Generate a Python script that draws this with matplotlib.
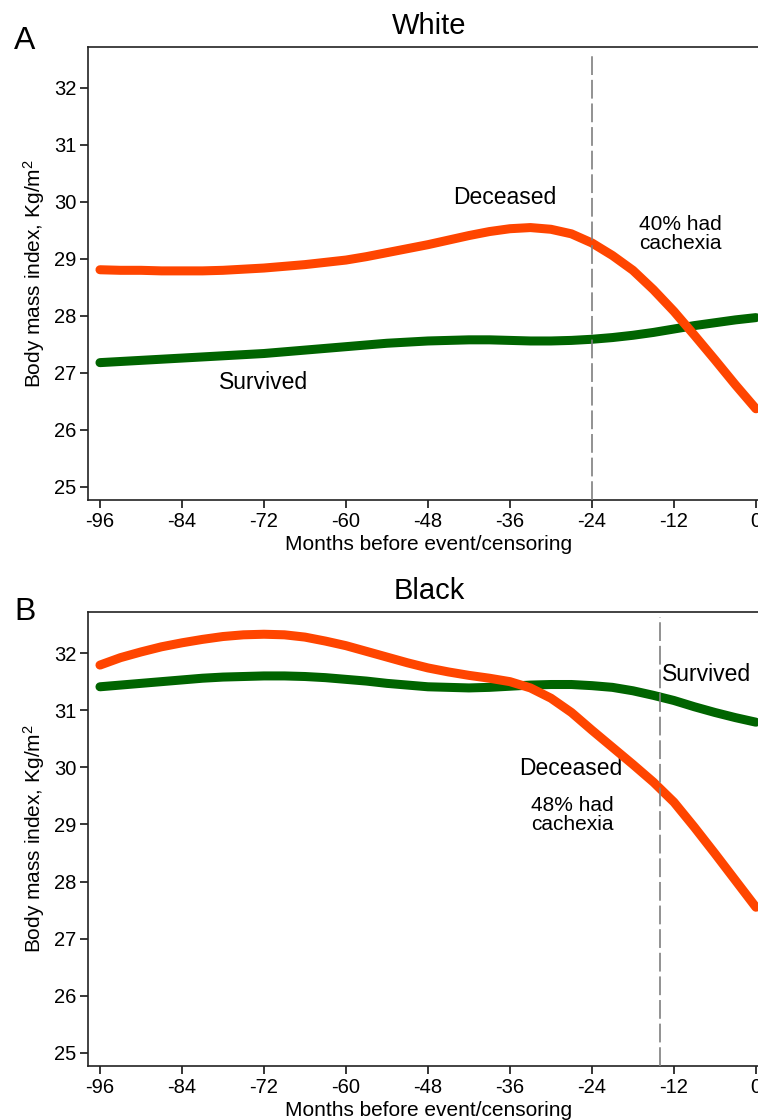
import matplotlib
matplotlib.use("Agg")
import matplotlib.pyplot as plt

plt.rcParams['font.family'] = ['Liberation Sans', 'DejaVu Sans']
plt.rcParams['mathtext.fontset'] = 'custom'
plt.rcParams['mathtext.rm'] = 'Liberation Sans'
plt.rcParams['mathtext.it'] = 'Liberation Sans'
plt.rcParams['axes.unicode_minus'] = False
plt.rcParams['lines.scale_dashes'] = False

# ---- data ----
months = [-96, -93, -90, -87, -84, -81, -78, -75, -72, -69, -66, -63, -60, -57, -54, -51,
          -48, -45, -42, -39, -36, -33, -30, -27, -24, -21, -18, -15, -12, -9, -6, -3, 0]

white_survived = [27.18, 27.20, 27.22, 27.24, 27.26, 27.28, 27.30, 27.32, 27.34, 27.37, 27.40,
                  27.43, 27.46, 27.49, 27.52, 27.54, 27.56, 27.57, 27.58, 27.58, 27.57, 27.56,
                  27.56, 27.57, 27.59, 27.62, 27.66, 27.71, 27.77, 27.83, 27.88, 27.93, 27.97]
white_deceased = [28.81, 28.80, 28.80, 28.79, 28.79, 28.79, 28.80, 28.82, 28.84, 28.87, 28.90,
                  28.94, 28.98, 29.04, 29.11, 29.18, 29.25, 29.33, 29.41, 29.48, 29.53, 29.55,
                  29.52, 29.44, 29.28, 29.06, 28.80, 28.46, 28.08, 27.66, 27.23, 26.79, 26.37]
black_survived = [31.41, 31.44, 31.47, 31.50, 31.53, 31.56, 31.58, 31.59, 31.60, 31.60, 31.59,
                  31.57, 31.54, 31.51, 31.47, 31.44, 31.41, 31.40, 31.39, 31.40, 31.42, 31.44,
                  31.45, 31.45, 31.43, 31.40, 31.34, 31.26, 31.17, 31.06, 30.96, 30.87, 30.79]
black_deceased = [31.79, 31.92, 32.02, 32.11, 32.18, 32.24, 32.29, 32.32, 32.33, 32.32, 32.28,
                  32.21, 32.13, 32.03, 31.93, 31.83, 31.74, 31.67, 31.61, 31.56, 31.50, 31.39,
                  31.21, 30.96, 30.65, 30.35, 30.05, 29.74, 29.39, 28.95, 28.49, 28.02, 27.55]

panel_titles = ["White", "Black"]
panel_letters = ["A", "B"]
cutoff_lines = [-24, -14]
xticks = [-96, -84, -72, -60, -48, -36, -24, -12, 0]
yticks = [25, 26, 27, 28, 29, 30, 31, 32]

ORANGE = '#FF4500'
GREEN = '#006400'

fig = plt.figure(figsize=(7.58, 11.2), dpi=100)
axA = fig.add_axes([0.1161, 0.5536, 0.8992, 0.4045])
axB = fig.add_axes([0.1161, 0.0482, 0.8992, 0.4054])

series = [(white_survived, white_deceased), (black_survived, black_deceased)]
for ax, (surv, dec), title, cut in zip([axA, axB], series, panel_titles, cutoff_lines):
    ax.plot(months, surv, color=GREEN, lw=6.5, solid_capstyle='round', solid_joinstyle='round', zorder=3)
    ax.plot(months, dec, color=ORANGE, lw=6.5, solid_capstyle='round', solid_joinstyle='round', zorder=4)
    ax.axvline(cut, ymin=0, ymax=0.988, color='#7f7f7f', lw=1.2, dashes=(13.5, 3.5), zorder=5)
    ax.set_xlim(-97.75, 2)
    ax.set_ylim(24.77, 32.72)
    ax.set_xticks(xticks)
    ax.set_xticklabels([str(t) for t in xticks])
    ax.set_yticks(yticks)
    ax.set_yticklabels([str(t) for t in yticks])
    ax.tick_params(axis='both', direction='out', length=5.5, width=1.1, labelsize=14.5, color='black')
    ax.tick_params(axis='x', pad=3)
    ax.tick_params(axis='y', pad=3)
    for s in ['left', 'bottom', 'top', 'right']:
        ax.spines[s].set_linewidth(1.2)
        ax.spines[s].set_color('#222222')
    ax.set_title(title, fontsize=21, pad=9.5)
    ax.set_xlabel("Months before event/censoring", fontsize=15, labelpad=3)
    ax.set_ylabel("Body mass index, Kg/m$^2$", fontsize=15, labelpad=5)

# annotations panel A
axA.text(-36.7, 30.07, "Deceased", fontsize=16.5, ha='center', va='center')
axA.text(-11.0, 29.44, "40% had\ncachexia", fontsize=15, ha='center', va='center', linespacing=1.0)
axA.text(-72.1, 26.84, "Survived", fontsize=16.5, ha='center', va='center')

# annotations panel B
axB.text(-7.2, 31.63, "Survived", fontsize=16.5, ha='center', va='center')
axB.text(-27.1, 29.98, "Deceased", fontsize=16.5, ha='center', va='center')
axB.text(-26.9, 29.16, "48% had\ncachexia", fontsize=15, ha='center', va='center', linespacing=1.0)

fig.text(0.0185, 0.9565, panel_letters[0], fontsize=23, ha='left', va='baseline')
fig.text(0.0185, 0.4465, panel_letters[1], fontsize=23, ha='left', va='baseline')

fig.savefig("out.png", dpi=100)
